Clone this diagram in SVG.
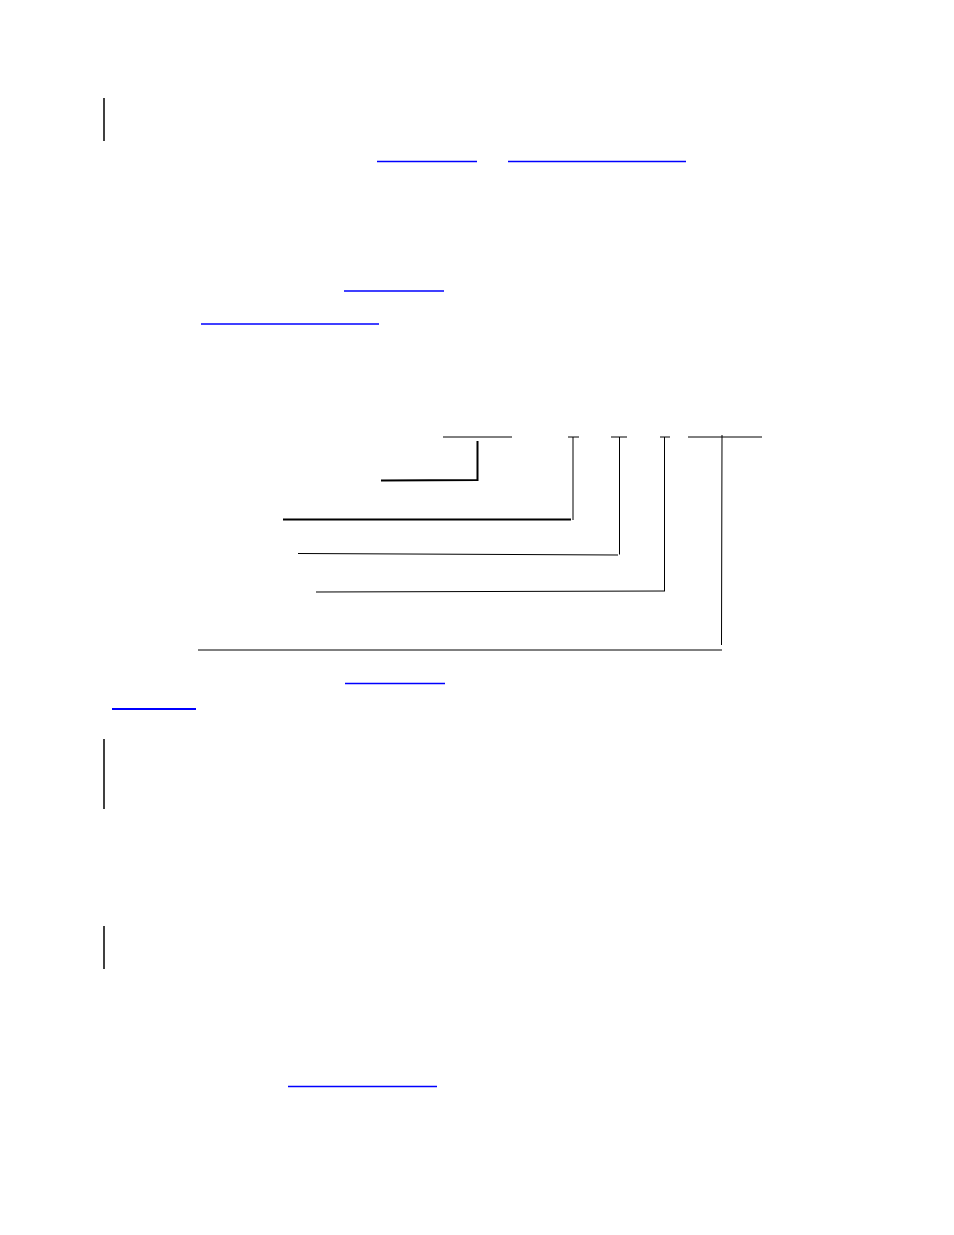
<svg xmlns="http://www.w3.org/2000/svg" width="954" height="1235" viewBox="0 0 954 1235">
<style>
.bar{stroke:#000;stroke-width:1.5;fill:none}
.ln{stroke:#000;stroke-width:1;fill:none}
.th{stroke:#000;stroke-width:2;fill:none}
.lk{stroke:#0000ff;stroke-width:1.3;fill:none}
</style>
<rect width="954" height="1235" fill="#fff"/>
<g id="change-bars">
<line class="bar" x1="104" y1="98" x2="104" y2="141"/>
<line class="bar" x1="104" y1="739" x2="104" y2="809"/>
<line class="bar" x1="104" y1="926" x2="104" y2="969"/>
</g>
<g id="links">
<line class="lk" x1="377" y1="161.5" x2="477" y2="161.5"/>
<line class="lk" x1="508" y1="161.5" x2="686" y2="161.5"/>
<line class="lk" x1="344" y1="291" x2="444" y2="291"/>
<line class="lk" x1="201" y1="324" x2="379" y2="324"/>
<line class="lk" x1="345" y1="683.5" x2="445" y2="683.5"/>
<line class="lk" x1="112" y1="709" x2="196" y2="709" style="stroke-width:2.2"/>
<line class="lk" x1="288" y1="1086.5" x2="437" y2="1086.5"/>
</g>
<g id="connectors">
<line class="ln" x1="443" y1="437" x2="512" y2="437"/>
<polyline class="th" points="477.5,441 477.5,480 381,480.5"/>
<line class="ln" x1="568" y1="437" x2="579" y2="437"/>
<line class="ln" x1="573" y1="437" x2="573" y2="520"/>
<line class="th" x1="283" y1="519.5" x2="571" y2="519.5"/>
<line class="ln" x1="611" y1="437" x2="627" y2="437"/>
<line class="ln" x1="619.5" y1="437" x2="619.5" y2="554.5"/>
<line class="ln" x1="298" y1="553.5" x2="618" y2="555"/>
<line class="ln" x1="660" y1="437" x2="670" y2="437"/>
<line class="ln" x1="664.5" y1="437" x2="664.5" y2="591"/>
<line class="ln" x1="316" y1="592" x2="665" y2="591"/>
<line class="ln" x1="688" y1="437" x2="762" y2="437"/>
<line class="ln" x1="722" y1="435" x2="721.5" y2="645"/>
<line class="ln" x1="198" y1="650" x2="722" y2="650"/>
</g>
</svg>
